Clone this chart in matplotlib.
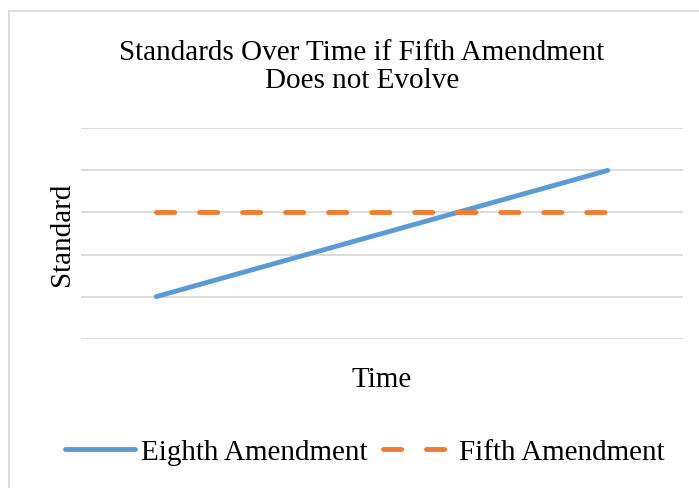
import matplotlib
matplotlib.use("Agg")
import matplotlib.pyplot as plt
from matplotlib.lines import Line2D

categories = ["1", "2", "3", "4"]
eighth = [1, 2, 3, 4]
fifth = [3, 3, 3, 3]
series_names = ["Eighth Amendment", "Fifth Amendment"]
title = "Standards Over Time if Fifth Amendment\nDoes not Evolve"

plt.rcParams['font.family'] = ['Liberation Serif', 'DejaVu Serif']

W, H = 699, 489
fs = 21
fig = plt.figure(figsize=(W / 100, H / 100), dpi=100)
ax = fig.add_axes([81 / W, 1 - 339.7 / H, (683 - 81) / W, (339.7 - 129.3) / H])

x = list(range(len(categories)))
blue = '#5B9BD5'
orange = '#ED7D31'
lw = 3.5
ax.plot(x, eighth, color=blue, lw=lw, solid_capstyle='round', zorder=3)
ax.plot(x, fifth, color=orange, lw=lw, dashes=(3.75, 5.1), dash_capstyle='round', zorder=3)

ax.set_xlim(-0.5, len(categories) - 0.5)
ax.set_ylim(0, 5)
ax.set_yticks(range(0, 6))
ax.yaxis.grid(True, color='#d9d9d9', lw=1.3)
ax.set_axisbelow(True)
ax.tick_params(left=False, bottom=False, labelleft=False, labelbottom=False)
for s in ax.spines.values():
    s.set_visible(False)

fig.text(362 / W, 1 - 67.5 / H, title, ha='center', va='center', fontsize=fs, linespacing=1.1)
fig.text(62 / W, 1 - 234 / H, "Standard", rotation=90, ha='center', va='center', fontsize=fs)
fig.text(382 / W, 1 - 380 / H, "Time", ha='center', va='center', fontsize=fs)

handles = [Line2D([], [], color=blue, lw=lw, solid_capstyle='round'),
           Line2D([], [], color=orange, lw=lw, dashes=(3.75, 5.1), dash_capstyle='round')]
fig.legend(handles, series_names, loc='center', bbox_to_anchor=(365 / W, 1 - 453 / H),
           ncol=2, frameon=False, fontsize=fs, handlelength=2.4, handletextpad=0.2,
           columnspacing=0.55)

# outer chart border (partially clipped)
fig.add_artist(Line2D([8.5 / W, 8.5 / W], [0, 1 - 11.5 / H], transform=fig.transFigure,
                      color='#d9d9d9', lw=1.3))
fig.add_artist(Line2D([8.5 / W, 1], [1 - 11.5 / H, 1 - 11.5 / H], transform=fig.transFigure,
                      color='#d9d9d9', lw=1.3))

fig.savefig("out.png", dpi=100)
